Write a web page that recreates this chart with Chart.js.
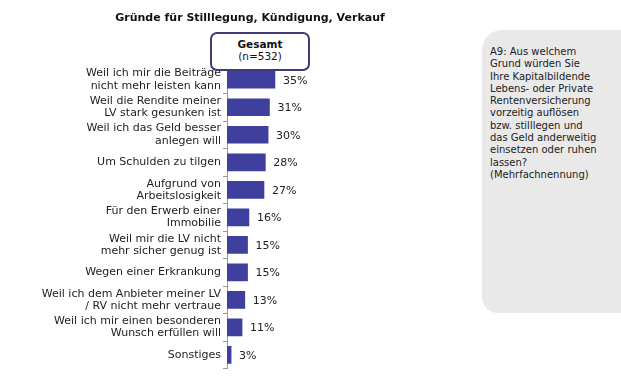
<!DOCTYPE html>
<html><head><meta charset="utf-8">
<script src="https://cdn.jsdelivr.net/npm/chart.js@4/dist/chart.umd.min.js"></script>
<style>
html,body{margin:0;padding:0;background:#fff;}
#wrap{position:relative;width:621px;height:383px;overflow:hidden;font-family:"DejaVu Sans",Verdana,sans-serif;}
#c{position:absolute;left:0;top:0;}
#title{position:absolute;left:0;width:500px;top:11px;text-align:center;font-weight:bold;font-size:11px;color:#111;}
#box{position:absolute;left:210px;top:32px;width:96px;height:31px;border:2px solid #3d3a78;border-radius:7px;text-align:center;font-size:10.5px;color:#111;line-height:12px;padding-top:4px;box-sizing:content-box;background:#fff;}
#panel{position:absolute;left:482px;top:30px;width:150px;height:283px;background:#e9e9e9;border-radius:20px 0 0 16px;}
#ptext{position:absolute;left:8px;top:16px;font-size:10px;line-height:12.3px;color:#222;}
</style></head>
<body><div id="wrap">
<canvas id="c" width="621" height="383"></canvas>
<div id="title">Gründe für Stilllegung, Kündigung, Verkauf</div>
<div id="box"><b>Gesamt</b><br>(n=532)</div>
<div id="panel"><div id="ptext">A9: Aus welchem<br>Grund würden Sie<br>Ihre Kapitalbildende<br>Lebens- oder Private<br>Rentenversicherung<br>vorzeitig auflösen<br>bzw. stilllegen und<br>das Geld anderweitig<br>einsetzen oder ruhen<br>lassen?<br>(Mehrfachnennung)</div></div>
</div>
<script>
const categories = [
  ["Weil ich mir die Beiträge","nicht mehr leisten kann"],
  ["Weil die Rendite meiner","LV stark gesunken ist"],
  ["Weil ich das Geld besser","anlegen will"],
  "Um Schulden zu tilgen",
  ["Aufgrund von","Arbeitslosigkeit"],
  ["Für den Erwerb einer","Immobilie"],
  ["Weil mir die LV nicht","mehr sicher genug ist"],
  "Wegen einer Erkrankung",
  ["Weil ich dem Anbieter meiner LV","/ RV nicht mehr vertraue"],
  ["Weil ich mir einen besonderen","Wunsch erfüllen will"],
  "Sonstiges"
];
const values = [35,31,30,28,27,16,15,15,13,11,3];
const valueLabels = values.map(v => v + "%");

const labelPlugin = {
  id: 'valLabels',
  afterDatasetsDraw(chart) {
    const ctx = chart.ctx;
    const meta = chart.getDatasetMeta(0);
    ctx.save();
    ctx.font = '11px "DejaVu Sans", Verdana, sans-serif';
    ctx.fillStyle = '#222';
    ctx.textBaseline = 'middle';
    ctx.textAlign = 'left';
    meta.data.forEach((bar, i) => {
      ctx.fillText(valueLabels[i], bar.x + 8, bar.y + 1);
    });
    ctx.restore();
  }
};

new Chart(document.getElementById('c'), {
  type: 'bar',
  data: {
    labels: categories,
    datasets: [{
      data: values,
      backgroundColor: '#3f3f9e',
      barThickness: 17,
      borderWidth: 0
    }]
  },
  options: {
    indexAxis: 'y',
    responsive: false,
    animation: false,
    layout: { padding: { left: 0, right: 257, top: 66, bottom: 11 } },
    plugins: { legend: { display: false }, tooltip: { enabled: false }, title: { display: false } },
    scales: {
      x: { display: false, min: 0, max: 100 },
      y: {
        afterFit(scale) { scale.width = 227; },
        border: { display: true, color: '#999', width: 1 },
        grid: { display: true, drawOnChartArea: false, offset: true, tickLength: 4, color: '#999' },
        ticks: {
          color: '#222',
          padding: 2,
          font: { family: '"DejaVu Sans", Verdana, sans-serif', size: 11, lineHeight: 1.12 }
        }
      }
    }
  },
  plugins: [labelPlugin]
});
</script>
</body></html>
